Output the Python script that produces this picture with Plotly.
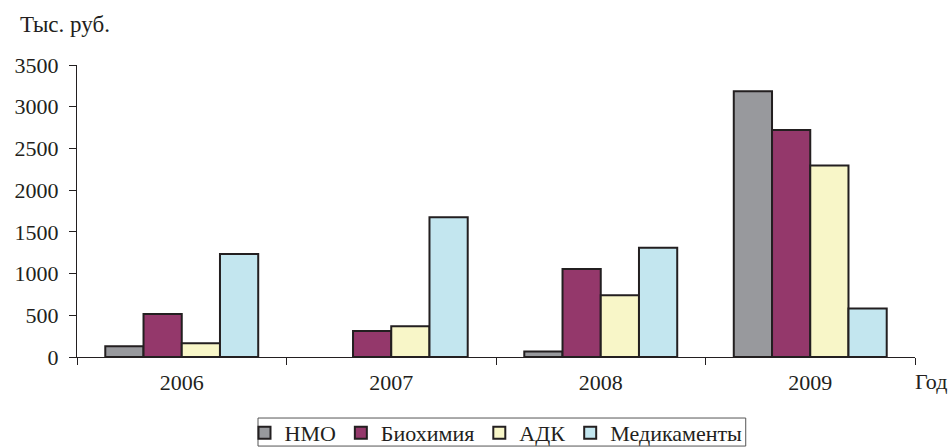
import plotly.graph_objects as go

years = ["2006", "2007", "2008", "2009"]
nmo = [130, None, 65, 3185]
biochem = [515, 312, 1055, 2720]
adk = [165, 368, 740, 2295]
meds = [1235, 1675, 1310, 580]

series_names = ["НМО", "Биохимия", "АДК", "Медикаменты"]
colors = ["#98999d", "#94386b", "#f8f6c8", "#c3e6ef"]
series = [nmo, biochem, adk, meds]

FONT = "Times New Roman, Liberation Serif, serif"
INK = "#231f20"

fig = go.Figure()
for name, vals, col in zip(series_names, series, colors):
    fig.add_trace(go.Bar(
        x=years, y=vals, name=name,
        marker=dict(color=col, line=dict(color=INK, width=2)),
    ))

fig.update_layout(
    width=949, height=448,
    margin=dict(l=77, r=34, t=65, b=91, autoexpand=False),
    paper_bgcolor="white", plot_bgcolor="white",
    barmode="group", bargap=0.27, bargroupgap=0,
    font=dict(family=FONT, size=22, color=INK),
    showlegend=True,
    legend=dict(
        orientation="h", x=0.5, xanchor="center",
        yref="container", y=0.0804, yanchor="top",
        borderwidth=0, bgcolor="rgba(0,0,0,0)",
        font=dict(family=FONT, size=22, color=INK),
        tracegroupgap=0,
    ),
    xaxis=dict(
        type="category", showline=True, linecolor=INK, linewidth=1,
        ticks="outside", tickson="boundaries", ticklen=7, tickcolor=INK,
        showgrid=False, zeroline=False, automargin=False,
        ticklabelstandoff=6,
        tickfont=dict(family=FONT, size=22, color=INK),
    ),
    yaxis=dict(
        range=[0, 3500], dtick=500, showline=True, linecolor=INK, linewidth=1,
        ticks="outside", ticklen=7, tickcolor=INK, showgrid=False, zeroline=False,
        automargin=False, ticklabelstandoff=6,
        tickfont=dict(family=FONT, size=22, color=INK),
    ),
    shapes=[
        dict(type="rect", xref="paper", yref="paper",
             x0=0.216, x1=0.798, y0=-0.209, y1=-0.305,
             line=dict(color="#555555", width=1), fillcolor="rgba(0,0,0,0)"),
    ],
    annotations=[
        dict(text="Тыс. руб.", xref="paper", yref="paper", x=-0.0704, y=1.137,
             xanchor="left", yanchor="middle", showarrow=False,
             font=dict(family=FONT, size=23, color=INK)),
        dict(text="Год", xref="paper", yref="paper", x=1.0, y=-0.0856,
             xanchor="left", yanchor="middle", showarrow=False, xshift=-2,
             font=dict(family=FONT, size=22, color=INK)),
    ],
)

fig.write_html("out.html", config={"displayModeBar": False},
               post_script="document.body.style.margin='0';document.body.style.overflow='hidden';")
